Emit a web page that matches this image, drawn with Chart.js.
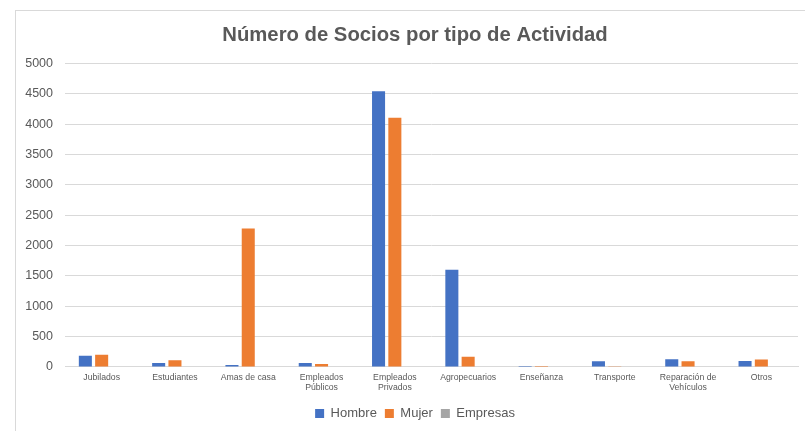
<!DOCTYPE html>
<html>
<head>
<meta charset="utf-8">
<script src="https://cdn.jsdelivr.net/npm/chart.js@4/dist/chart.umd.min.js"></script>
<style>
  html, body { margin: 0; padding: 0; background: #fff; }
  #wrap { width: 805px; height: 431px; position: relative; }
</style>
</head>
<body>
<div id="wrap"><canvas id="sociosChart"></canvas></div>
<script>
const categories = [
    'Jubilados', 'Estudiantes', 'Amas de casa', ['Empleados', 'Públicos'],
    ['Empleados', 'Privados'], 'Agropecuarios', 'Enseñanza', 'Transporte',
    ['Reparación de', 'Vehículos'], 'Otros'
];
const hombre = [186, 66, 33, 66, 4540, 1600, 16, 94, 127, 99];
const mujer = [203, 110, 2280, 50, 4105, 170, 18, 3, 94, 121];
const empresas = [0, 0, 0, 0, 0, 0, 0, 0, 0, 0];
const yTicks = [0, 500, 1000, 1500, 2000, 2500, 3000, 3500, 4000, 4500, 5000];

const textColor = '#595959';
const gridColor = '#D9D9D9';
const fontFamily = '"Liberation Sans", Arial, sans-serif';

// light frame around the chart, cut off on the right and bottom like the original
const framePlugin = {
    id: 'frame',
    beforeDraw(c) {
        const ctx = c.ctx;
        ctx.save();
        ctx.strokeStyle = gridColor;
        ctx.lineWidth = 1;
        ctx.strokeRect(15.5, 10.5, 900, 500);
        ctx.restore();
    }
};

// title and legend are centred on the whole frame, not on the plot
const centerShift = {
    id: 'centerShift',
    afterLayout(c) {
        [c.titleBlock, c.legend].forEach(b => {
            if (!b) return;
            b.left += 8;
            b.right += 8;
        });
    }
};

let chart;

function initChart() {
    const ctx = document.getElementById('sociosChart').getContext('2d');
    chart = new Chart(ctx, {
        type: 'bar',
        data: {
            labels: categories,
            datasets: [
                { label: 'Hombre', data: hombre, backgroundColor: '#4472C4' },
                { label: 'Mujer', data: mujer, backgroundColor: '#ED7D31' },
                { label: 'Empresas', data: empresas, backgroundColor: '#A5A5A5' }
            ]
        },
        options: {
            responsive: true,
            maintainAspectRatio: false,
            animation: false,
            datasets: {
                bar: { categoryPercentage: 0.667, barPercentage: 0.8, borderWidth: 0 }
            },
            layout: { padding: { left: 16, right: 7, top: 10, bottom: 1 } },
            scales: {
                x: {
                    afterFit(scale) { scale.height += 0.5; },
                    grid: { display: false, drawTicks: false },
                    border: { color: gridColor },
                    ticks: {
                        color: textColor,
                        font: { family: fontFamily, size: 8.7, lineHeight: 1.18 },
                        maxRotation: 0,
                        autoSkip: false,
                        padding: 5.5
                    }
                },
                y: {
                    min: 0,
                    max: 5000,
                    afterFit(scale) { scale.width = 49; },
                    afterBuildTicks(scale) { scale.ticks = yTicks.map(v => ({ value: v })); },
                    grid: { color: gridColor, drawTicks: false },
                    border: { display: false },
                    ticks: {
                        color: textColor,
                        font: { family: fontFamily, size: 12.5 },
                        padding: 12,
                        callback: v => String(v)
                    }
                }
            },
            plugins: {
                title: {
                    display: true,
                    text: 'Número de Socios por tipo de Actividad',
                    color: textColor,
                    font: { family: fontFamily, size: 20.3, weight: 'bold', lineHeight: 1.2 },
                    padding: { top: 13, bottom: 16 }
                },
                legend: {
                    position: 'bottom',
                    labels: {
                        color: textColor,
                        font: { family: fontFamily, size: 13 },
                        boxWidth: 9,
                        boxHeight: 9,
                        padding: 8
                    }
                },
                tooltip: { enabled: false }
            }
        },
        plugins: [framePlugin, centerShift]
    });
}

initChart();
</script>
</body>
</html>
